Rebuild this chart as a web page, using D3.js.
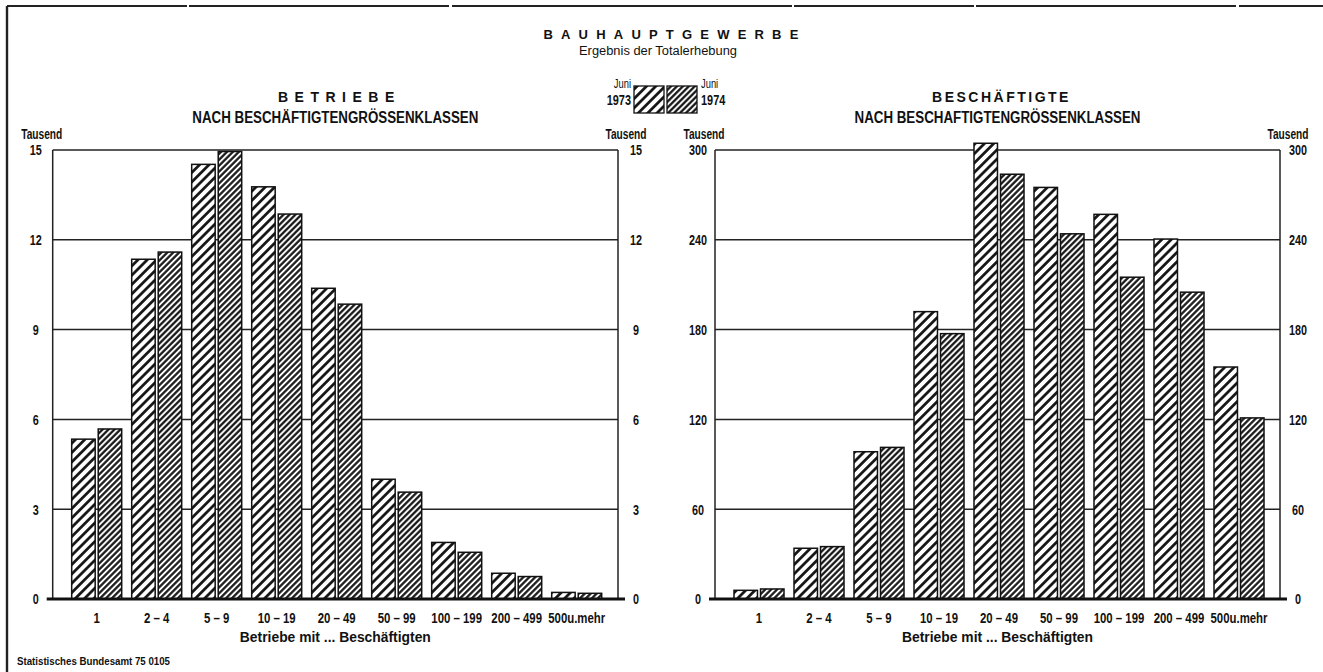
<!DOCTYPE html>
<html>
<head>
<meta charset="utf-8">
<script src="https://cdn.jsdelivr.net/npm/d3@7"></script>
<style>
  html, body { margin: 0; padding: 0; background: #fff; }
  svg { display: block; }
  text { font-family: "Liberation Sans", Arial, sans-serif; font-weight: bold; fill: #111; }
</style>
</head>
<body>
<div class="container-chart"></div>
<script>

// Kategorien (Betriebe mit ... Beschaeftigten)
var categories = ["1", "2 \u2013 4", "5 \u2013 9", "10 \u2013 19", "20 \u2013 49", "50 \u2013 99", "100 \u2013 199", "200 \u2013 499", "500u.mehr"];
var years = ["1973", "1974"];

// Betriebe, Tausend
var betriebe1973 = [5.34, 11.35, 14.52, 13.77, 10.38, 4.0, 1.89, 0.86, 0.22];
var betriebe1974 = [5.68, 11.59, 14.95, 12.86, 9.85, 3.57, 1.56, 0.75, 0.19];

// Beschaeftigte, Tausend
var besch1973 = [5.8, 33.9, 98.4, 192, 304.5, 275, 257, 240.5, 155];
var besch1974 = [6.7, 35, 101.3, 177.3, 283.8, 244, 215, 205, 121];

var ticksBetriebe = [0, 3, 6, 9, 12, 15];
var ticksBesch = [0, 60, 120, 180, 240, 300];

var width = 1323;
var height = 672;

var svg = d3.select(".container-chart")
    .append("svg")
    .attr("width", width)
    .attr("height", height)
    .attr("viewBox", "0 0 " + width + " " + height);

// squeeze text horizontally, the original uses a condensed face
function squeeze(sel, k) {
    sel.each(function () {
        var n = this.getComputedTextLength();
        d3.select(this)
            .attr("textLength", n * k)
            .attr("lengthAdjust", "spacingAndGlyphs");
    });
}

// hatch patterns
var defs = svg.append("defs");
function hatch(id, step, sw) {
    var p = defs.append("pattern")
        .attr("id", id)
        .attr("patternUnits", "userSpaceOnUse")
        .attr("width", step)
        .attr("height", step)
        .attr("patternTransform", "rotate(45)");
    p.append("rect").attr("width", step).attr("height", step).attr("fill", "#fff");
    p.append("line")
        .attr("x1", step / 2).attr("y1", 0)
        .attr("x2", step / 2).attr("y2", step)
        .attr("stroke", "#111")
        .attr("stroke-width", sw);
}
hatch("h1973", 6.6, 2.7);
hatch("h1974", 4.2, 2.2);
var fills = {"1973": "url(#h1973)", "1974": "url(#h1974)"};

// frame (scanned, slightly broken)
svg.append("line").attr("x1", 7).attr("y1", 6).attr("x2", width).attr("y2", 6)
    .attr("stroke", "#222").attr("stroke-width", 2).attr("stroke-dasharray", "180,2,260,3,340,2");
svg.append("line").attr("x1", 7).attr("y1", 6).attr("x2", 7).attr("y2", height)
    .attr("stroke", "#222").attr("stroke-width", 2.4);

// header
svg.append("text")
    .attr("x", 675).attr("y", 39)
    .attr("text-anchor", "middle")
    .attr("font-size", 13)
    .attr("letter-spacing", 8.2)
    .text("BAUHAUPTGEWERBE");
svg.append("text")
    .attr("x", 658).attr("y", 55)
    .attr("text-anchor", "middle")
    .attr("font-size", 12)
    .style("font-weight", "normal")
    .attr("textLength", 158)
    .attr("lengthAdjust", "spacingAndGlyphs")
    .text("Ergebnis der Totalerhebung");

// legend
var lg = svg.append("g");
lg.selectAll("rect")
    .data(years)
    .enter()
    .append("rect")
    .attr("x", function (d, i) { return 634 + i * 33; })
    .attr("y", 86)
    .attr("width", 30)
    .attr("height", 27)
    .attr("fill", function (d) { return fills[d]; })
    .attr("stroke", "#111")
    .attr("stroke-width", 1.3);
lg.selectAll(".juni")
    .data(years)
    .enter()
    .append("text")
    .attr("x", function (d, i) { return i === 0 ? 631 : 701; })
    .attr("y", 88)
    .attr("text-anchor", function (d, i) { return i === 0 ? "end" : "start"; })
    .attr("font-size", 12)
    .style("font-weight", "normal")
    .text("Juni");
lg.selectAll(".yr")
    .data(years)
    .enter()
    .append("text")
    .attr("x", function (d, i) { return i === 0 ? 631 : 701; })
    .attr("y", 105)
    .attr("text-anchor", function (d, i) { return i === 0 ? "end" : "start"; })
    .attr("font-size", 14)
    .text(function (d) { return d; });
squeeze(lg.selectAll("text"), 0.78);

function drawChart(opts) {
    var x0 = opts.x0, x1 = opts.x1;
    var top = 150, bottom = 599;
    var cx = (x0 + x1) / 2;
    var g = svg.append("g");

    var y = d3.scaleLinear().domain([0, opts.max]).range([bottom, top]);

    var x = d3.scaleBand()
        .domain(categories)
        .range([x0 + 14, x0 + 14 + 540])
        .paddingInner(1 / 6)
        .paddingOuter(1 / 12);

    var xs = d3.scaleBand()
        .domain(years)
        .range([0, x.bandwidth()])
        .paddingInner(0.115);

    // titles
    g.append("text")
        .attr("x", cx + 4).attr("y", 102)
        .attr("text-anchor", "middle")
        .attr("font-size", 14)
        .attr("letter-spacing", opts.spacing)
        .text(opts.title);
    g.append("text")
        .attr("x", cx).attr("y", 123)
        .attr("text-anchor", "middle")
        .attr("font-size", 16)
        .attr("textLength", 286)
        .attr("lengthAdjust", "spacingAndGlyphs")
        .text(opts.subtitle);

    // grid lines
    g.selectAll(".grid")
        .data(opts.ticks.slice(1))
        .enter()
        .append("line")
        .attr("x1", x0).attr("x2", x1)
        .attr("y1", function (d) { return y(d); })
        .attr("y2", function (d) { return y(d); })
        .attr("stroke", "#222")
        .attr("stroke-width", 1.5);

    // box sides
    g.append("line").attr("x1", x0).attr("x2", x0).attr("y1", top).attr("y2", bottom)
        .attr("stroke", "#222").attr("stroke-width", 1.5);
    g.append("line").attr("x1", x1).attr("x2", x1).attr("y1", top).attr("y2", bottom)
        .attr("stroke", "#222").attr("stroke-width", 1.5);

    // bars
    var rows = categories.map(function (c, i) {
        return {cat: c, values: [{year: "1973", v: opts.a[i]}, {year: "1974", v: opts.b[i]}]};
    });
    var grp = g.selectAll(".grp")
        .data(rows)
        .enter()
        .append("g")
        .attr("transform", function (d) { return "translate(" + x(d.cat) + ",0)"; });
    grp.selectAll("rect")
        .data(function (d) { return d.values; })
        .enter()
        .append("rect")
        .attr("x", function (d) { return xs(d.year); })
        .attr("y", function (d) { return y(d.v); })
        .attr("width", xs.bandwidth())
        .attr("height", function (d) { return bottom - y(d.v); })
        .attr("fill", function (d) { return fills[d.year]; })
        .attr("stroke", "#111")
        .attr("stroke-width", 1.5);

    // baseline
    g.append("line").attr("x1", x0 - 6).attr("x2", x1 + 7).attr("y1", bottom).attr("y2", bottom)
        .attr("stroke", "#111").attr("stroke-width", 2.8);

    // value labels, both sides (narrowed by a scale transform)
    var yl = d3.axisLeft(y).tickValues(opts.ticks).tickSize(0).tickPadding(0);
    var yr = d3.axisRight(y).tickValues(opts.ticks).tickSize(0).tickPadding(0);
    var al = g.append("g").attr("transform", "translate(" + (x0 - 17) + ",0)").call(yl);
    var ar = g.append("g").attr("transform", "translate(" + (x1 + 18) + ",0)").call(yr);
    [al, ar].forEach(function (a) {
        a.select(".domain").remove();
        a.selectAll("text")
            .attr("text-anchor", "middle")
            .attr("x", 0)
            .attr("font-size", 15)
            .attr("transform", "scale(0.72,1)")
            .attr("fill", "#111");
    });
    g.append("text").attr("x", x0 - 11).attr("y", 139).attr("text-anchor", "middle")
        .attr("font-size", 14).attr("textLength", 41).attr("lengthAdjust", "spacingAndGlyphs")
        .text("Tausend");
    g.append("text").attr("x", x1 + 8).attr("y", 139).attr("text-anchor", "middle")
        .attr("font-size", 14).attr("textLength", 41).attr("lengthAdjust", "spacingAndGlyphs")
        .text("Tausend");

    // category axis
    var xa = d3.axisBottom(x).tickSize(0).tickPadding(0);
    var ax = g.append("g").attr("transform", "translate(0," + (bottom + 24) + ")").call(xa);
    ax.select(".domain").remove();
    ax.selectAll("text")
        .attr("y", 0)
        .attr("dy", 0)
        .attr("font-size", 15)
        .attr("transform", "scale(0.76,1)")
        .attr("fill", "#111");

    g.append("text")
        .attr("x", cx).attr("y", 642)
        .attr("text-anchor", "middle")
        .attr("font-size", 15)
        .attr("textLength", 191)
        .attr("lengthAdjust", "spacingAndGlyphs")
        .text("Betriebe mit ... Beschäftigten");
}

drawChart({
    x0: 52.7, x1: 618, max: 15, ticks: ticksBetriebe,
    a: betriebe1973, b: betriebe1974,
    title: "BETRIEBE", spacing: 6.5,
    subtitle: "NACH BESCHÄFTIGTENGRÖSSENKLASSEN"
});
drawChart({
    x0: 715, x1: 1280, max: 300, ticks: ticksBesch,
    a: besch1973, b: besch1974,
    title: "BESCHÄFTIGTE", spacing: 2.5,
    subtitle: "NACH BESCHAFTIGTENGRÖSSENKLASSEN"
});

svg.append("text")
    .attr("x", 17).attr("y", 665)
    .attr("font-size", 11)
    .attr("textLength", 153)
    .attr("lengthAdjust", "spacingAndGlyphs")
    .text("Statistisches Bundesamt 75 0105");

</script>
</body>
</html>
